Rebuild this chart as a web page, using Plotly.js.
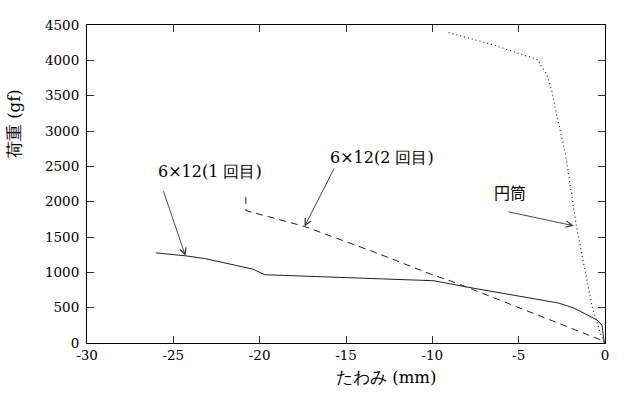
<!DOCTYPE html>
<html>
<head>
<meta charset="utf-8">
<script src="https://cdn.plot.ly/plotly-3.0.1.min.js"></script>
</head>
<body style="margin:0;background:#fff">
<div id="chart" style="width:628px;height:396px"></div>
<script>
// 6x12 (1st run) - solid
var x1 = [-26.0, -24.3, -23.2, -20.4, -19.7, -17.1, -12.5, -9.9, -8.0, -4.5, -2.7, -1.8, -1.2, -0.46, -0.17, -0.04];
var y1 = [1275, 1234, 1196, 1046, 966, 942, 905, 881, 792, 636, 566, 495, 414, 325, 250, 0];
// 6x12 (2nd run) - dashed
var x2 = [-20.8, -20.8, -17.4, -13.3, -10.1, -8.6, -0.1];
var y2 = [2064, 1875, 1649, 1281, 975, 848, 30];
// Cylinder - dotted
var x3 = [-9.06, -6.65, -3.85, -3.74, -3.36, -3.07, -2.78, -2.30, -1.66, -1.14, -0.75, -0.27, -0.05];
var y3 = [4392, 4232, 4006, 3935, 3794, 3558, 3204, 2687, 1659, 1036, 518, 141, 0];

var xTicks = [-30, -25, -20, -15, -10, -5, 0];
var yTicks = [0, 500, 1000, 1500, 2000, 2500, 3000, 3500, 4000, 4500];

var SERIF = 'DejaVu Serif';
var JP = 'Noto Sans CJK JP';

var traces = [
  {x: x1, y: y1, mode: 'lines', line: {color: '#222', width: 1}, hoverinfo: 'none'},
  {x: x2, y: y2, mode: 'lines', line: {color: '#222', width: 1, dash: '7px,5px'}, hoverinfo: 'none'},
  {x: x3, y: y3, mode: 'lines', line: {color: '#222', width: 1.2, dash: '1px,3px'}, hoverinfo: 'none'}
];

var arrowStyle = {showarrow: true, arrowhead: 5, arrowsize: 1.4, arrowwidth: 0.9, arrowcolor: '#333',
  axref: 'x', ayref: 'y', standoff: 0, startstandoff: 0, text: ''};

var layout = {
  width: 628, height: 396,
  margin: {l: 87, r: 23, t: 25, b: 53},
  paper_bgcolor: '#fff', plot_bgcolor: '#fff',
  showlegend: false,
  xaxis: {
    range: [-30, 0], tickvals: xTicks, ticktext: xTicks.map(String),
    ticks: 'inside', ticklen: 7, tickcolor: '#333', tickwidth: 1,
    showline: true, linecolor: '#000', linewidth: 1, mirror: 'allticks',
    showgrid: false, zeroline: false,
    tickfont: {family: SERIF, size: 13.5, color: '#000'}
  },
  yaxis: {
    range: [0, 4500], tickvals: yTicks, ticktext: yTicks.map(String),
    ticks: 'inside', ticklen: 7, tickcolor: '#333', tickwidth: 1,
    showline: true, linecolor: '#000', linewidth: 1, mirror: 'allticks',
    showgrid: false, zeroline: false, ticklabelstandoff: 4,
    tickfont: {family: SERIF, size: 13.5, color: '#000'}
  },
  annotations: [
    {xref: 'paper', yref: 'paper', x: -0.14, y: 0.69, text: '荷重 (gf)', textangle: -90,
     showarrow: false, xanchor: 'center', yanchor: 'middle', font: {family: SERIF, size: 16.5, color: '#000'}},
    {xref: 'paper', yref: 'paper', x: 0.577, y: -0.108, text: 'たわみ (mm)',
     showarrow: false, xanchor: 'center', yanchor: 'middle', font: {family: SERIF, size: 16.5, color: '#000'}},
    {x: -22.88, y: 2422, text: '6×12(1 回目)', showarrow: false, xanchor: 'center', yanchor: 'middle',
     font: {family: SERIF, size: 16, color: '#000'}},
    {x: -12.94, y: 2627, text: '6×12(2 回目)', showarrow: false, xanchor: 'center', yanchor: 'middle',
     font: {family: SERIF, size: 16, color: '#000'}},
    {x: -5.49, y: 2139, text: '円筒', showarrow: false, xanchor: 'center', yanchor: 'middle',
     font: {family: JP, size: 16, color: '#000'}},
    Object.assign({}, arrowStyle, {x: x1[1], y: y1[1], ax: -25.6, ay: 2168}),
    Object.assign({}, arrowStyle, {x: x2[2], y: y2[2], ax: -15.64, ay: 2493}),
    Object.assign({}, arrowStyle, {x: -1.82, y: 1659, ax: -5.68, ay: 1861})
  ]
};

Plotly.newPlot('chart', traces, layout, {staticPlot: true, displayModeBar: false});
</script>
</body>
</html>
